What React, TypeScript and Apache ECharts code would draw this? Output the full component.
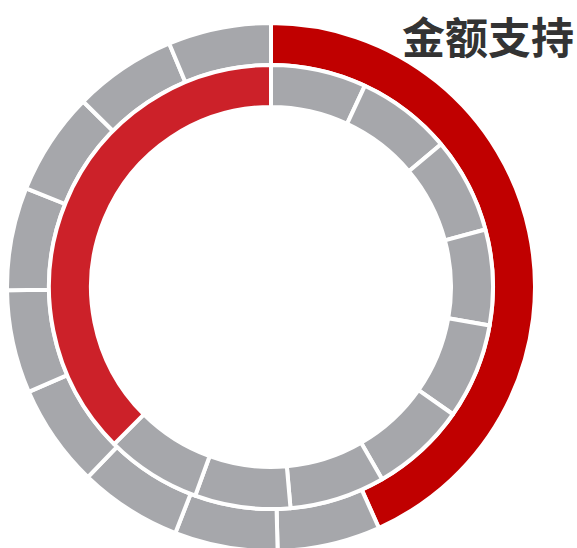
import React, { useEffect, useRef } from "react";
import * as echarts from "echarts";

const titleText = "金额支持";
const outerNames = ["支持", "g1", "g2", "g3", "g4", "g5", "g6", "g7", "g8", "g9"];
const outerValues = [43.3, 6.3, 6.3, 6.3, 6.3, 6.3, 6.3, 6.3, 6.3, 6.3];
const innerNames = ["g1", "g2", "g3", "g4", "g5", "g6", "g7", "g8", "g9", "金额"];
const innerValues = [6.94, 6.94, 6.94, 6.94, 6.94, 6.94, 6.94, 6.94, 6.94, 37.5];

const OUTER_RED = "#C00000";
const INNER_RED = "#CC2129";
const GRAY = "#A6A7AB";

export default function App() {
  const ref = useRef<HTMLDivElement>(null);
  useEffect(() => {
    if (!ref.current) return;
    const chart = echarts.init(ref.current, undefined, { renderer: "svg" });
    const outerData = outerValues.map((v, i) => ({
      name: outerNames[i],
      value: v,
      itemStyle: { color: i === 0 ? OUTER_RED : GRAY },
    }));
    const innerData = innerValues.map((v, i) => ({
      name: innerNames[i],
      value: v,
      itemStyle: { color: i === innerValues.length - 1 ? INNER_RED : GRAY },
    }));
    const common = {
      type: "pie" as const,
      center: [271, 287],
      startAngle: 90,
      clockwise: true,
      silent: true,
      label: { show: false },
      labelLine: { show: false },
      emphasis: { disabled: true },
      itemStyle: { borderColor: "#ffffff", borderWidth: 4 },
    };
    chart.setOption({
      animation: false,
      backgroundColor: "#ffffff",
      graphic: [
        {
          type: "text",
          x: 574,
          y: 35,
          style: {
            text: titleText,
            fontSize: 43,
            fontWeight: "bold",
            fontFamily: "Noto Sans CJK SC",
            fill: "#333333",
            align: "right",
            verticalAlign: "middle",
          },
        },
      ],
      series: [
        { ...common, name: "outer", radius: [222, 264], data: outerData },
        { ...common, name: "inner", radius: [180, 222], data: innerData },
      ],
    });
    return () => chart.dispose();
  }, []);
  return (
    <div
      ref={ref}
      style={{ position: "fixed", left: 0, top: 0, width: 577, height: 548 }}
    />
  );
}
